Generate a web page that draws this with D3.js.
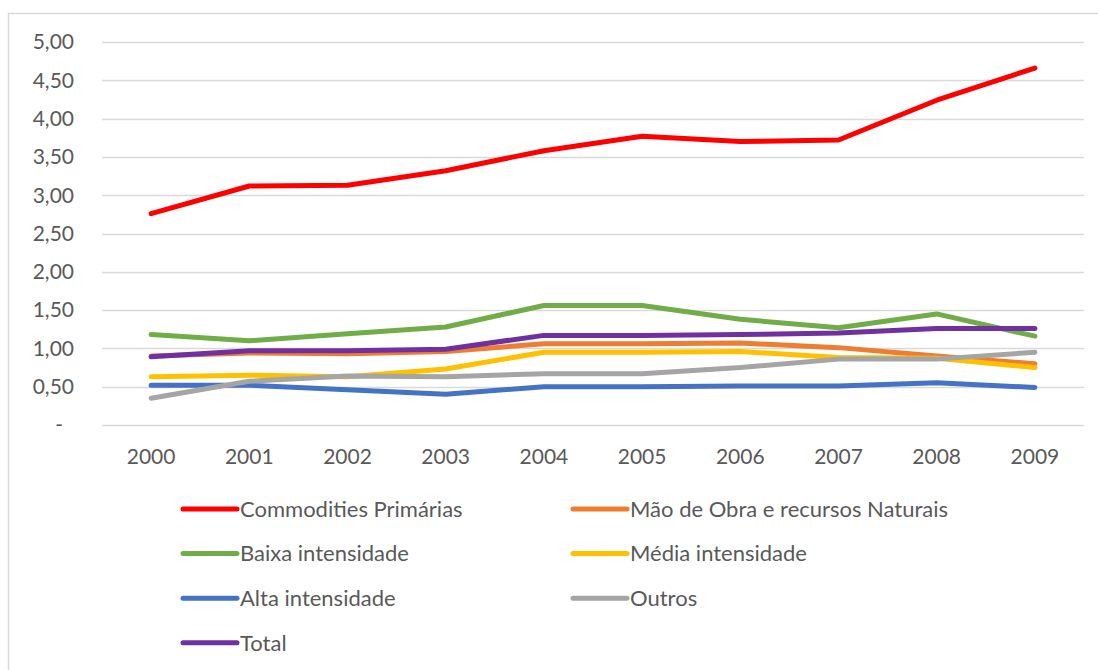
<!DOCTYPE html>
<meta charset="utf-8">
<style>
body { margin: 0; background: #fff; }
text { font-family: Lato, "Noto Sans", sans-serif; fill: #595959; }
.line { fill: none; stroke-width: 5; stroke-linecap: round; stroke-linejoin: round; }
</style>
<body>
<script src="https://d3js.org/d3.v7.min.js"></script>
<script>

// data
var years = ["2000", "2001", "2002", "2003", "2004", "2005", "2006", "2007", "2008", "2009"];
var yTicks = [0, 0.5, 1, 1.5, 2, 2.5, 3, 3.5, 4, 4.5, 5];

var commodities = [2.76, 3.12, 3.13, 3.32, 3.58, 3.77, 3.70, 3.72, 4.24, 4.66];
var maoDeObra   = [0.90, 0.94, 0.93, 0.96, 1.06, 1.06, 1.07, 1.01, 0.90, 0.80];
var baixa       = [1.18, 1.10, 1.19, 1.28, 1.56, 1.56, 1.38, 1.27, 1.45, 1.16];
var media       = [0.63, 0.65, 0.63, 0.73, 0.95, 0.95, 0.96, 0.88, 0.87, 0.75];
var alta        = [0.52, 0.52, 0.46, 0.40, 0.50, 0.50, 0.51, 0.51, 0.55, 0.49];
var outros      = [0.35, 0.57, 0.64, 0.63, 0.67, 0.67, 0.75, 0.86, 0.86, 0.95];
var total       = [0.89, 0.97, 0.97, 0.99, 1.17, 1.17, 1.18, 1.20, 1.26, 1.26];

var series = [
  {name: "Commodities Primárias", values: commodities, color: "#FF0000"},
  {name: "Mão de Obra e recursos Naturais", values: maoDeObra, color: "#ED7D31"},
  {name: "Baixa intensidade", values: baixa, color: "#70AD47"},
  {name: "Média intensidade", values: media, color: "#FFC000"},
  {name: "Alta intensidade", values: alta, color: "#4472C4"},
  {name: "Outros", values: outros, color: "#A5A5A5"},
  {name: "Total", values: total, color: "#7030A0"}
];

var width = 1098, height = 670;
var plot = {left: 102, right: 1084, top: 42, bottom: 425};

var svg = d3.select("body").append("svg")
    .attr("width", width)
    .attr("height", height);

// chart border (only left and top visible in the crop)
svg.append("rect")
    .attr("x", 8.5).attr("y", 13.5)
    .attr("width", 1200).attr("height", 800)
    .attr("fill", "none")
    .attr("stroke", "#d9d9d9")
    .attr("stroke-width", 1.5);

var x = d3.scaleBand().domain(years).range([plot.left, plot.right]);
var y = d3.scaleLinear().domain([0, 5]).range([plot.bottom, plot.top]);

// gridlines
svg.append("g")
  .selectAll("line")
  .data(yTicks)
  .enter().append("line")
    .attr("x1", plot.left).attr("x2", plot.right)
    .attr("y1", function(d) { return Math.round(y(d)) + 0.5; })
    .attr("y2", function(d) { return Math.round(y(d)) + 0.5; })
    .attr("stroke", "#d9d9d9")
    .attr("stroke-width", 1.5);

// y labels
var fmt = function(d) { return d === 0 ? "-" : d3.format(".2f")(d).replace(".", ","); };
svg.append("g")
  .selectAll("text")
  .data(yTicks)
  .enter().append("text")
    .attr("x", function(d) { return d === 0 ? 63 : 74; })
    .attr("y", function(d) { return y(d); })
    .attr("dy", "0.35em")
    .attr("text-anchor", "end")
    .style("font-size", "21px")
    .text(fmt);

// x labels
svg.append("g")
  .selectAll("text")
  .data(years)
  .enter().append("text")
    .attr("x", function(d) { return x(d) + x.bandwidth() / 2; })
    .attr("y", 457)
    .attr("dy", "0.35em")
    .attr("text-anchor", "middle")
    .style("font-size", "21px")
    .text(function(d) { return d; });

var line = d3.line()
    .x(function(d, i) { return x(years[i]) + x.bandwidth() / 2; })
    .y(function(d) { return y(d); });

svg.append("g")
  .selectAll("path")
  .data(series)
  .enter().append("path")
    .attr("class", "line")
    .attr("stroke", function(d) { return d.color; })
    .attr("d", function(d) { return line(d.values); });

// legend, two columns
var legend = svg.append("g")
  .selectAll("g")
  .data(series)
  .enter().append("g")
    .attr("transform", function(d, i) {
      var col = i % 2, row = Math.floor(i / 2);
      return "translate(" + (183 + col * 390) + "," + (509 + row * 44.6) + ")";
    });

legend.append("line")
    .attr("x1", 0).attr("x2", 54)
    .attr("stroke", function(d) { return d.color; })
    .attr("stroke-width", 5)
    .attr("stroke-linecap", "round");

legend.append("text")
    .attr("x", 57)
    .attr("dy", "0.35em")
    .style("font-size", "22px")
    .text(function(d) { return d.name; });

</script>
</body>
